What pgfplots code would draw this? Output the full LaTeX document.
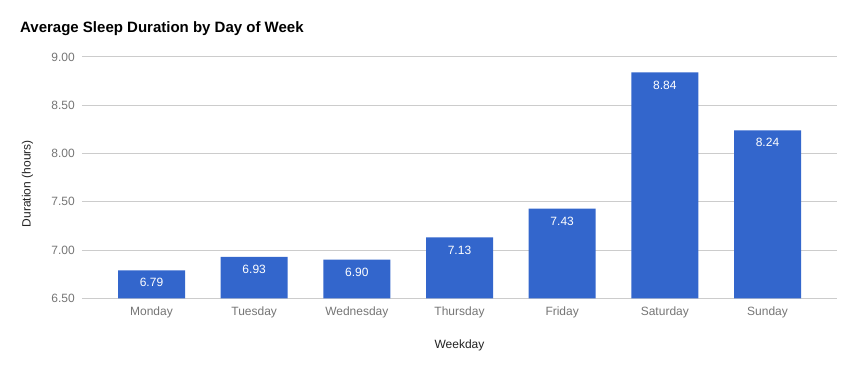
\documentclass[border=0pt]{standalone}
\usepackage{pgfplots}
\pgfplotsset{compat=1.18}
\usepackage{fontspec}
\setmainfont{Liberation Sans}
\definecolor{barblue}{HTML}{3366CC}
\definecolor{gridgray}{HTML}{CCCCCC}
\definecolor{ticktext}{HTML}{757575}
\definecolor{labeltext}{HTML}{222222}
\begin{document}
\begin{tikzpicture}
\path[use as bounding box] (0,0) rectangle (855pt,371pt);
\node[anchor=base west, inner sep=0pt, font=\fontsize{15}{18}\selectfont\bfseries] at (20pt,338pt) {Average Sleep Duration by Day of Week};
\begin{axis}[
  at={(82pt,72.7pt)}, anchor=south west,
  scale only axis, width=755pt, height=241.3pt,
  xmin=-0.677, xmax=6.677, ymin=6.5, ymax=9.0,
  ytick={6.5,7,7.5,8,8.5,9},
  xtick={0,1,2,3,4,5,6},
  xticklabels={Monday,Tuesday,Wednesday,Thursday,Friday,Saturday,Sunday},
  /pgf/number format/assume math mode=true,
  yticklabel={\pgfmathprintnumber[fixed,fixed zerofill,precision=2]{\tick}},
  ymajorgrids, major grid style={gridgray, line width=1pt},
  axis line style={draw=none},
  major tick length=0pt,
  tick label style={font=\fontsize{12}{14}\selectfont, text=ticktext},
  yticklabel style={anchor=east, inner sep=0pt, xshift=-7pt},
  xticklabel style={anchor=base, inner sep=0pt, yshift=-17.7pt},
  xlabel={Weekday}, ylabel={Duration (hours)},
  label style={font=\fontsize{12}{14}\selectfont, text=labeltext},
  xlabel style={at={(axis description cs:0.5,-0.1935)}, anchor=center, inner sep=0pt},
  ylabel style={at={(axis description cs:-0.0722,0.4751)}, anchor=center, rotate=0, inner sep=0pt},
  ybar, bar width=67pt, bar shift=0pt,
  nodes near coords={\pgfmathprintnumber[fixed,fixed zerofill,precision=2,assume math mode=true]{\pgfplotspointmeta}},
  nodes near coords style={anchor=center, yshift=-12.5pt, text=white, font=\fontsize{12}{14}\selectfont, inner sep=0pt},
]
\addplot[fill=barblue, draw=none] coordinates {
(0,6.79) (1,6.93) (2,6.90) (3,7.13) (4,7.43) (5,8.84) (6,8.24)
};
\end{axis}
\end{tikzpicture}
\end{document}
